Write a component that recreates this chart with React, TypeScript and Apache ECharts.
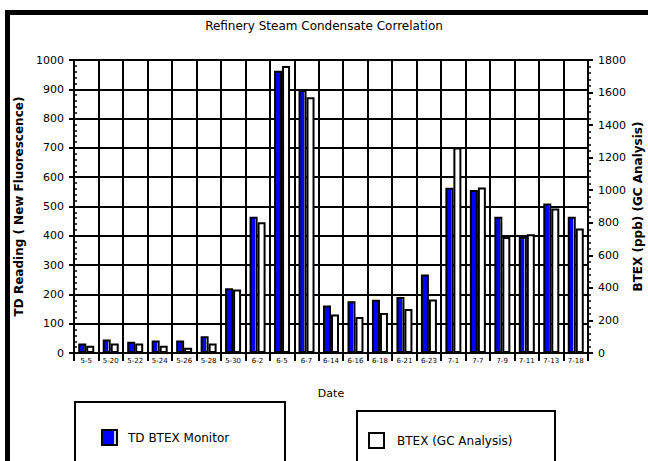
import React, { useEffect, useRef } from "react";
import * as echarts from "echarts";

const dates = [
  "5-5", "5-20", "5-22", "5-24", "5-26", "5-28", "5-30", "6-2", "6-5", "6-7", "6-14",
  "6-16", "6-18", "6-21", "6-23", "7-1", "7-7", "7-9", "7-11", "7-13", "7-18",
];
const tdMonitor = [32, 46, 38, 43, 43, 57, 221, 465, 963, 898, 162, 177, 182, 191, 268, 564, 556, 465, 396, 510, 465];
const gcAnalysis = [45, 58, 58, 45, 33, 58, 390, 804, 1763, 1571, 236, 221, 246, 271, 328, 1263, 1017, 713, 730, 888, 765];

const leftTicks = { min: 0, max: 1000, interval: 100 };
const rightTicks = { min: 0, max: 1800, interval: 200 };

const FONT = "DejaVu Sans";

export default function App() {
  const ref = useRef<HTMLDivElement>(null);
  useEffect(() => {
    const chart = echarts.init(ref.current!, null, { renderer: "svg" });
    const blueFill = {
      type: "linear", x: 0, y: 0, x2: 1, y2: 0,
      colorStops: [
        { offset: 0, color: "#0000ff" },
        { offset: 0.78, color: "#0000ff" },
        { offset: 0.78, color: "#d0d0ff" },
        { offset: 1, color: "#d0d0ff" },
      ],
    };
    const plain = (v: number) => String(v);
    chart.setOption({
      animation: false,
      backgroundColor: "#ffffff",
      textStyle: { fontFamily: FONT, color: "#000" },
      title: {
        text: "Refinery Steam Condensate Correlation",
        left: "center",
        top: 15,
        textStyle: { fontFamily: FONT, fontSize: 12, fontWeight: "normal", color: "#000" },
      },
      grid: { left: 74, top: 60, width: 514, height: 293, containLabel: false, outerBoundsMode: "none" },
      legend: [
        {
          data: ["TD BTEX Monitor"],
          left: 101, top: 429, padding: 0,
          itemWidth: 15, itemHeight: 15,
          icon: "rect",
          textStyle: { fontFamily: FONT, fontSize: 12, color: "#000", padding: [0, 0, 0, 6] },
          selectedMode: false,
        },
        {
          data: ["BTEX (GC Analysis)"],
          left: 368, top: 432, padding: 0,
          itemWidth: 15, itemHeight: 15,
          icon: "rect",
          textStyle: { fontFamily: FONT, fontSize: 12, color: "#000", padding: [0, 0, 0, 8] },
          selectedMode: false,
        },
      ],
      xAxis: {
        type: "category",
        data: dates,
        boundaryGap: true,
        name: "Date",
        nameLocation: "middle",
        nameGap: 35,
        nameTextStyle: { fontFamily: FONT, fontSize: 11, color: "#000" },
        axisLine: { show: true, lineStyle: { color: "#000", width: 2 } },
        axisTick: { show: true, interval: 0, length: 8, lineStyle: { color: "#000", width: 2 } },
        axisLabel: { interval: 0, fontSize: 7, margin: 4, color: "#000", fontFamily: FONT },
        splitLine: { show: true, interval: 0, lineStyle: { color: "#000", width: 2 } },
      },
      yAxis: [
        {
          type: "value",
          position: "left",
          ...leftTicks,
          name: "TD Reading ( New Fluorescence)",
          nameLocation: "middle",
          nameRotate: 90,
          nameGap: 49,
          nameTextStyle: { fontFamily: FONT, fontSize: 12, fontWeight: "bold", color: "#000" },
          axisLine: { show: true, lineStyle: { color: "#000", width: 2 } },
          axisTick: { show: true, length: 5, lineStyle: { color: "#000", width: 2 } },
          axisLabel: { fontSize: 11, margin: 10, color: "#000", fontFamily: FONT, formatter: plain },
          splitLine: { show: true, lineStyle: { color: "#000", width: 2 } },
        },
        {
          type: "value",
          position: "right",
          offset: 0,
          ...rightTicks,
          name: "BTEX (ppb) (GC Analysis)",
          nameLocation: "middle",
          nameRotate: 90,
          nameGap: 44,
          nameMoveOverlap: false,
          nameTextStyle: { fontFamily: FONT, fontSize: 12, fontWeight: "bold", color: "#000" },
          axisLine: { show: true, lineStyle: { color: "#000", width: 2 } },
          axisTick: { show: true, length: 5, lineStyle: { color: "#000", width: 2 } },
          minorTick: { show: true, splitNumber: 5, length: 3, lineStyle: { color: "#000", width: 1.5 } },
          axisLabel: { fontSize: 11, margin: 10, color: "#000", fontFamily: FONT, formatter: plain },
          splitLine: { show: false },
        },
        {
          type: "value",
          position: "left",
          offset: 0,
          ...leftTicks,
          axisLine: { show: false },
          axisTick: { show: true, inside: true, length: 4, lineStyle: { color: "#000", width: 2 } },
          minorTick: { show: true, splitNumber: 5, length: 3, lineStyle: { color: "#000", width: 1.5 } },
          axisLabel: { show: false },
          splitLine: { show: false },
        },
      ],
      series: [
        {
          name: "TD BTEX Monitor",
          type: "bar",
          yAxisIndex: 0,
          data: tdMonitor,
          barWidth: 8,
          barGap: "0%",
          itemStyle: { color: blueFill, borderColor: "#000", borderWidth: 2 },
        },
        {
          name: "BTEX (GC Analysis)",
          type: "bar",
          yAxisIndex: 1,
          data: gcAnalysis,
          barWidth: 8,
          barGap: "0%",
          itemStyle: { color: "#ffffff", borderColor: "#000", borderWidth: 2 },
        },
      ],
      graphic: [
        {
          type: "rect",
          shape: { x: 7.5, y: 12.5, width: 700, height: 500 },
          style: { fill: "none", stroke: "#000", lineWidth: 5 },
          silent: true,
        },
        {
          type: "rect",
          shape: { x: 75, y: 402, width: 210, height: 100 },
          style: { fill: "none", stroke: "#000", lineWidth: 2 },
          silent: true,
        },
        {
          type: "rect",
          shape: { x: 357, y: 411, width: 198, height: 100 },
          style: { fill: "none", stroke: "#000", lineWidth: 2 },
          silent: true,
        },
      ],
    });
    return () => chart.dispose();
  }, []);
  return (
    <div
      ref={ref}
      style={{ position: "fixed", left: 0, top: 0, width: 648, height: 461, background: "#fff" }}
    />
  );
}
